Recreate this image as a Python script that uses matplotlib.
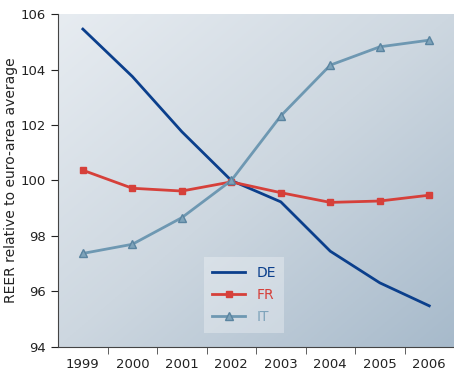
import numpy as np
import matplotlib
matplotlib.use("Agg")
import matplotlib.pyplot as plt
from matplotlib.colors import LinearSegmentedColormap

years = ["1999", "2000", "2001", "2002", "2003", "2004", "2005", "2006"]
de = [105.46, 103.75, 101.76, 100.0, 99.23, 97.45, 96.31, 95.48]
fr = [100.37, 99.72, 99.62, 99.95, 99.56, 99.21, 99.26, 99.47]
it = [97.37, 97.70, 98.66, 100.0, 102.33, 104.16, 104.82, 105.06]

fig = plt.figure(figsize=(4.54, 3.71), dpi=100)
ax = fig.add_axes([0.128, 0.065, 0.872, 0.897])

# soft background gradient, light top-left to darker bottom-right
gx, gy = np.meshgrid(np.linspace(0, 1, 200), np.linspace(0, 1, 200))
grad = (gx + gy) / 2
cmap = LinearSegmentedColormap.from_list("bg", ["#e7ecf1", "#cdd7e0", "#a7bacb"])
ax.imshow(grad, cmap=cmap, extent=[0, 1, 0, 1], transform=ax.transAxes,
          aspect="auto", zorder=0, origin="upper")

x = np.arange(len(years))
ax.plot(x, de, color="#0b3f8c", lw=2, label="DE", zorder=3)
ax.plot(x, fr, color="#d6403a", lw=2, marker="s", ms=5, label="FR", zorder=3)
ax.plot(x, it, color="#6e98b2", lw=2, marker="^", ms=6, mfc="#7ea3ba",
        mec="#5a84a0", label="IT", zorder=3)

ax.set_xlim(-0.5, 7.5)
ax.set_ylim(94, 106)
ax.set_yticks([94, 96, 98, 100, 102, 104, 106])
ax.set_xticks(x)
ax.set_xticklabels(years)
ax.set_xticks(np.arange(0.5, 7, 1), minor=True)
ax.tick_params(axis="x", which="major", length=0, pad=8, labelsize=9.5, colors="#222222")
ax.tick_params(axis="x", which="minor", length=5, color="#444444")
ax.tick_params(axis="y", length=5, labelsize=9.5, colors="#222222")
for s in ["top", "right"]:
    ax.spines[s].set_visible(False)
for s in ["left", "bottom"]:
    ax.spines[s].set_color("#444444")

ax.set_ylabel("REER relative to euro-area average", fontsize=10, color="#222222",
              labelpad=2)

leg = ax.legend(loc="lower left", bbox_to_anchor=(0.35, 0.022), frameon=True,
                fontsize=10, handlelength=2.4, labelspacing=0.6, borderpad=0.6,
                fancybox=False)
leg.get_frame().set_facecolor("#ffffff")
leg.get_frame().set_alpha(0.3)
leg.get_frame().set_edgecolor("none")
for txt, c in zip(leg.get_texts(), ["#0b3f8c", "#d6403a", "#7ea3ba"]):
    txt.set_color(c)

fig.savefig("out.png", dpi=100)
